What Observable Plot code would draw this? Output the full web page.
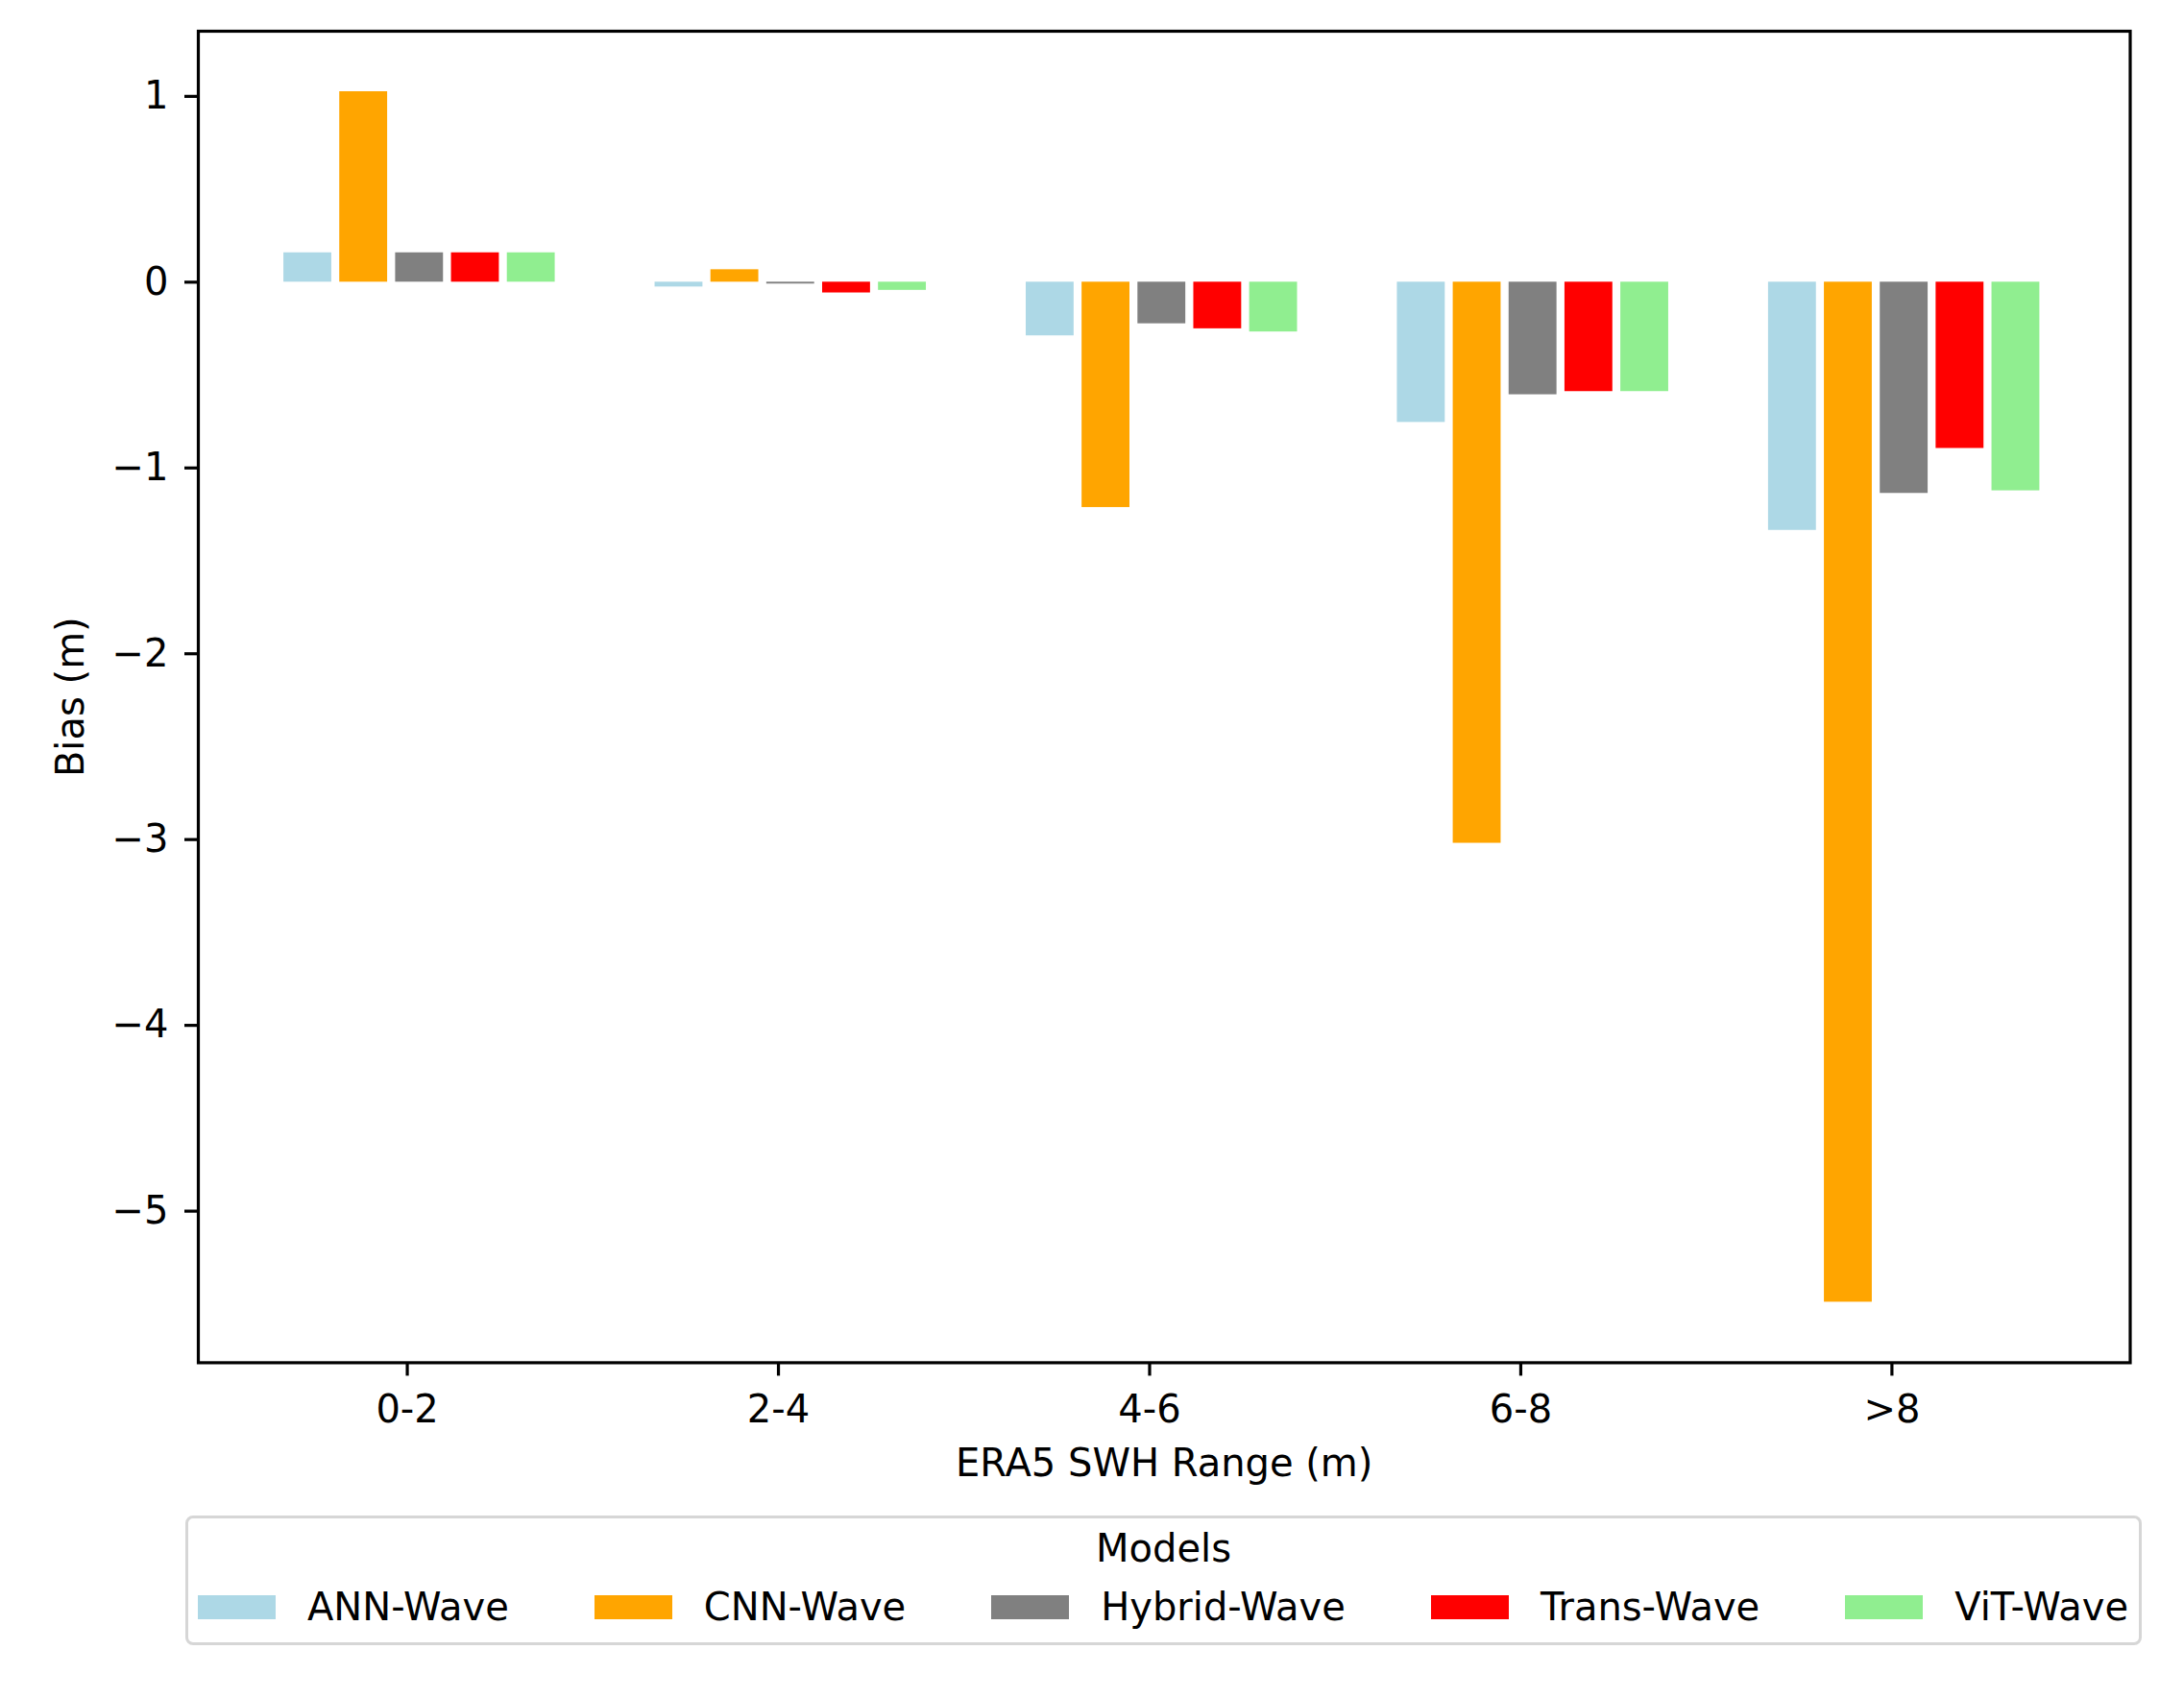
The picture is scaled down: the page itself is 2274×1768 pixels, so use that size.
<!DOCTYPE html>
<html>
<head>
<meta charset="utf-8">
<script src="https://cdn.jsdelivr.net/npm/d3@7"></script>
<script src="https://cdn.jsdelivr.net/npm/@observablehq/plot@0.6"></script>
<style>
  html, body { margin: 0; padding: 0; background: #fff; }
  #wrap { position: relative; width: 2274px; height: 1768px; font-family: "DejaVu Sans", sans-serif; color: #000; }
  #wrap svg { position: absolute; left: 0; top: 0; }
  #legend { position: absolute; left: 193px; top: 1578px; width: 2037px; height: 135px; box-sizing: border-box;
            border: 3px solid #d6d6d6; border-radius: 8px; background: #fff; }
  #legend .title { position: absolute; left: 0; right: 0; top: 8px; text-align: center; font-size: 40px; line-height: 46px; }
  #legend .row { position: absolute; left: 10px; top: 69px; display: flex; align-items: center; font-size: 40px; line-height: 46px; white-space: nowrap; }
  #legend .sw { display: inline-block; width: 81px; height: 25px; margin-right: 33px; }
  #legend .lab { margin-right: 89px; }
  #legend .lab:last-child { margin-right: 0; }
</style>
</head>
<body>
<div id="wrap"></div>
<script>
// ---- data ----
const ranges = ["0-2", "2-4", "4-6", "6-8", ">8"];
const models = ["ANN-Wave", "CNN-Wave", "Hybrid-Wave", "Trans-Wave", "ViT-Wave"];
const colors = ["#add8e6", "#ffa500", "#808080", "#ff0000", "#90ee90"];
const annWave    = [0.158, -0.026, -0.289, -0.755, -1.336];
const cnnWave    = [1.025,  0.067, -1.213, -3.02,  -5.49];
const hybridWave = [0.158, -0.010, -0.224, -0.606, -1.137];
const transWave  = [0.158, -0.058, -0.251, -0.589, -0.895];
const vitWave    = [0.158, -0.044, -0.268, -0.589, -1.123];
const yTicks = [1, 0, -1, -2, -3, -4, -5];
const yLabel = "Bias (m)";
const xLabel = "ERA5 SWH Range (m)";
const legendTitle = "Models";

// ---- build table ----
const series = [annWave, cnnWave, hybridWave, transWave, vitWave];
const rows = [];
models.forEach((m, mi) => ranges.forEach((r, gi) => rows.push({model: m, mi, gi, range: r, value: series[mi][gi]})));

const STEP = 0.1505, SHIFT = 0.033, BAR = 0.129;
const center = d => d.gi + (d.mi - 2) * STEP + SHIFT;
const all = series.flat();
const lo = d3.min(all), hi = d3.max(all), span = hi - lo;

const W = 2274, H = 1560;
const minus = d => (d < 0 ? "\u2212" + Math.abs(d) : String(d));

const chart = Plot.plot({
  width: W, height: H,
  marginLeft: 206, marginRight: 56.5, marginTop: 32, marginBottom: H - 1418.4,
  x: {type: "linear", domain: [-0.563, 4.642]},
  y: {domain: [lo - 0.05 * span, hi + 0.05 * span]},
  color: {domain: models, range: colors},
  style: {fontFamily: "DejaVu Sans", fontSize: "40px", background: "white", color: "black"},
  marks: [
    Plot.rect(rows, {x1: d => center(d) - BAR / 2, x2: d => center(d) + BAR / 2, y1: 0, y2: "value", fill: "model"}),
    Plot.frame({stroke: "black", strokeWidth: 3.2}),
    Plot.axisX({ticks: d3.range(ranges.length), tickFormat: i => ranges[i], tickSize: 14, tickPadding: 20,
                strokeWidth: 3.2, fontSize: 40, label: null}),
    Plot.axisY({ticks: yTicks, tickFormat: minus, tickSize: 14, tickPadding: 17,
                strokeWidth: 3.2, fontSize: 40, label: null}),
    Plot.text([yLabel], {frameAnchor: "left", textAnchor: "middle", lineAnchor: "middle", rotate: -90, dx: -132.5, fontSize: 40}),
    Plot.text([xLabel], {frameAnchor: "bottom", textAnchor: "middle", dy: 105.6, fontSize: 40, lineAnchor: "middle"})
  ]
});

const wrap = document.getElementById("wrap");
wrap.appendChild(chart);

// ---- legend ----
const leg = document.createElement("div");
leg.id = "legend";
const t = document.createElement("div");
t.className = "title";
t.textContent = legendTitle;
leg.appendChild(t);
const row = document.createElement("div");
row.className = "row";
models.forEach((m, i) => {
  const sw = document.createElement("span");
  sw.className = "sw";
  sw.style.background = colors[i];
  const lab = document.createElement("span");
  lab.className = "lab";
  lab.textContent = m;
  row.appendChild(sw);
  row.appendChild(lab);
});
leg.appendChild(row);
wrap.appendChild(leg);
</script>
</body>
</html>
